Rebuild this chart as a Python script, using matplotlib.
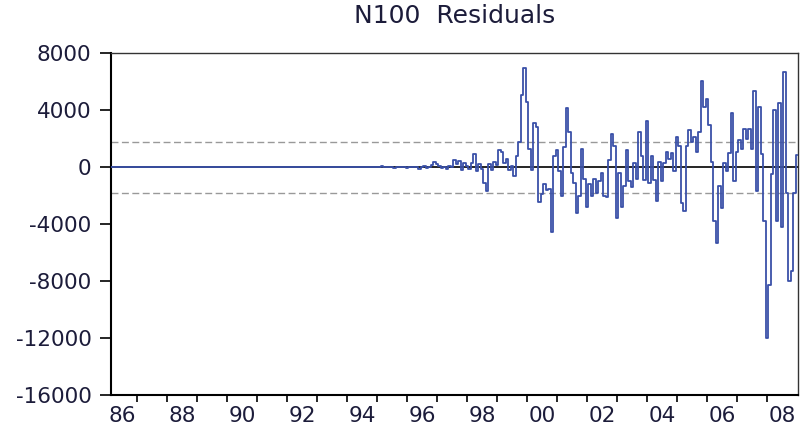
import numpy as np
import matplotlib
matplotlib.use("Agg")
import matplotlib.pyplot as plt
from matplotlib.ticker import FixedLocator, NullFormatter, FixedFormatter

plt.rcParams['font.family'] = ['DejaVu Sans']
plt.rcParams['axes.unicode_minus'] = False

# ---- data (monthly residuals) ----
start_year = 1986
start_month = 2          # first observation: 1986M02
zeros_1986_1992 = [0] * 83
res_1993 = [0, 0, 0, 0, 0, 0, 0, 0, 0, 0, 40, 0]
res_1994 = [0, 0, 0, 0, 40, 0, 0, 0, 0, 0, 0, 0]
res_1995 = [0, 0, 60, 0, 0, 0, 0, -60, 40, 0, 30, 0]
res_1996 = [-40, 50, 0, 0, 0, -100, 40, 80, -60, 0, 150, 375]
res_1997 = [200, 100, -50, 0, -150, 100, 0, 500, 250, 450, -200, 300]
res_1998 = [100, -150, 300, 900, -300, 200, -100, -1100, -1700, 250, -200, 350]
res_1999 = [150, 1200, 1100, 300, 600, -200, 100, -600, 800, 1800, 5100, 7000]
res_2000 = [4600, 1300, -200, 3100, 2800, -2450, -1900, -1200, -1600, -1500, -4580, 800]
res_2001 = [1200, -300, -2000, 1400, 4180, 2500, -400, -1100, -3200, -2000, 1250, -800]
res_2002 = [-2800, -1200, -2000, -800, -1800, -1000, -400, -2000, -2100, 500, 2340, 1500]
res_2003 = [-3600, -400, -2800, -1300, 1200, -1000, -1400, 300, -800, 2450, 800, -900]
res_2004 = [3250, -1100, 800, -900, -2400, 400, -1000, 300, 1100, 600, 1000, -300]
res_2005 = [2150, 1500, -2500, -3050, 1500, 2600, 1800, 2100, 1100, 2500, 6040, 4200]
res_2006 = [4800, 3000, 380, -3750, -5300, -1300, -2900, 300, -300, 1000, 3800, -1000]
res_2007 = [1100, 1900, 1300, 2700, 2000, 2700, 1300, 5330, -1700, 4200, 900, -3800]
res_2008 = [-12000, -8240, -500, 4040, -3800, 4530, -4200, 6700, -1800, -8000, -7300, -1800]
res_2009 = [850]

band = 1800              # +/- reference band (dashed lines)
y_ticks = [8000, 4000, 0, -4000, -8000, -12000, -16000]
x_label_years = [86, 88, 90, 92, 94, 96, 98, 0, 2, 4, 6, 8]

residuals = np.array(zeros_1986_1992 + res_1993 + res_1994 + res_1995 + res_1996 +
                     res_1997 + res_1998 + res_1999 + res_2000 + res_2001 + res_2002 +
                     res_2003 + res_2004 + res_2005 + res_2006 + res_2007 + res_2008 +
                     res_2009, dtype=float)
t = start_year + (start_month - 1) / 12 + np.arange(len(residuals)) / 12

# ---- figure ----
fig = plt.figure(figsize=(8.02, 4.30), dpi=100)
ax = fig.add_axes([0.1384, 0.0814, 0.8566, 0.7946])

ax.axhline(0, color='black', lw=1.2, zorder=2)
ax.axhline(band, color='#999999', lw=1.0, dashes=(5, 2.5), zorder=1)
ax.axhline(-band, color='#999999', lw=1.0, dashes=(5, 2.5), zorder=1)
ax.plot(t, residuals, color='#3a50a8', lw=1.3, drawstyle='steps-mid', zorder=3)

ax.set_xlim(1986.13, 2009.03)
ax.set_ylim(-16000, 8000)

# y axis
ax.set_yticks(y_ticks)
ax.set_yticklabels([str(v) for v in y_ticks])
ax.tick_params(axis='y', direction='out', length=8, width=1.2, pad=6,
               labelsize=15.5, labelcolor='#1c1c3a')

# x axis: ticks at year boundaries, labels centred on even years
year_ticks = list(range(1987, 2009))
ax.xaxis.set_major_locator(FixedLocator(year_ticks))
ax.xaxis.set_major_formatter(NullFormatter())
label_pos = [(1900 + y if y >= 50 else 2000 + y) + 0.5 for y in x_label_years]
ax.xaxis.set_minor_locator(FixedLocator(label_pos))
ax.xaxis.set_minor_formatter(FixedFormatter(['%02d' % y for y in x_label_years]))
ax.tick_params(axis='x', which='major', direction='out', length=5, width=1.2)
ax.tick_params(axis='x', which='minor', length=0, pad=8, labelsize=15.5,
               labelcolor='#1c1c3a')

for side in ['left', 'bottom']:
    ax.spines[side].set_linewidth(1.5)
    ax.spines[side].set_color('black')
for side in ['top', 'right']:
    ax.spines[side].set_linewidth(1.0)
    ax.spines[side].set_color('#333333')

fig.text(0.567, 1 - 23 / 430, 'N100  Residuals', ha='center', va='baseline',
         fontsize=18, color='#1c1c3a')

fig.savefig('out.png', dpi=100)
